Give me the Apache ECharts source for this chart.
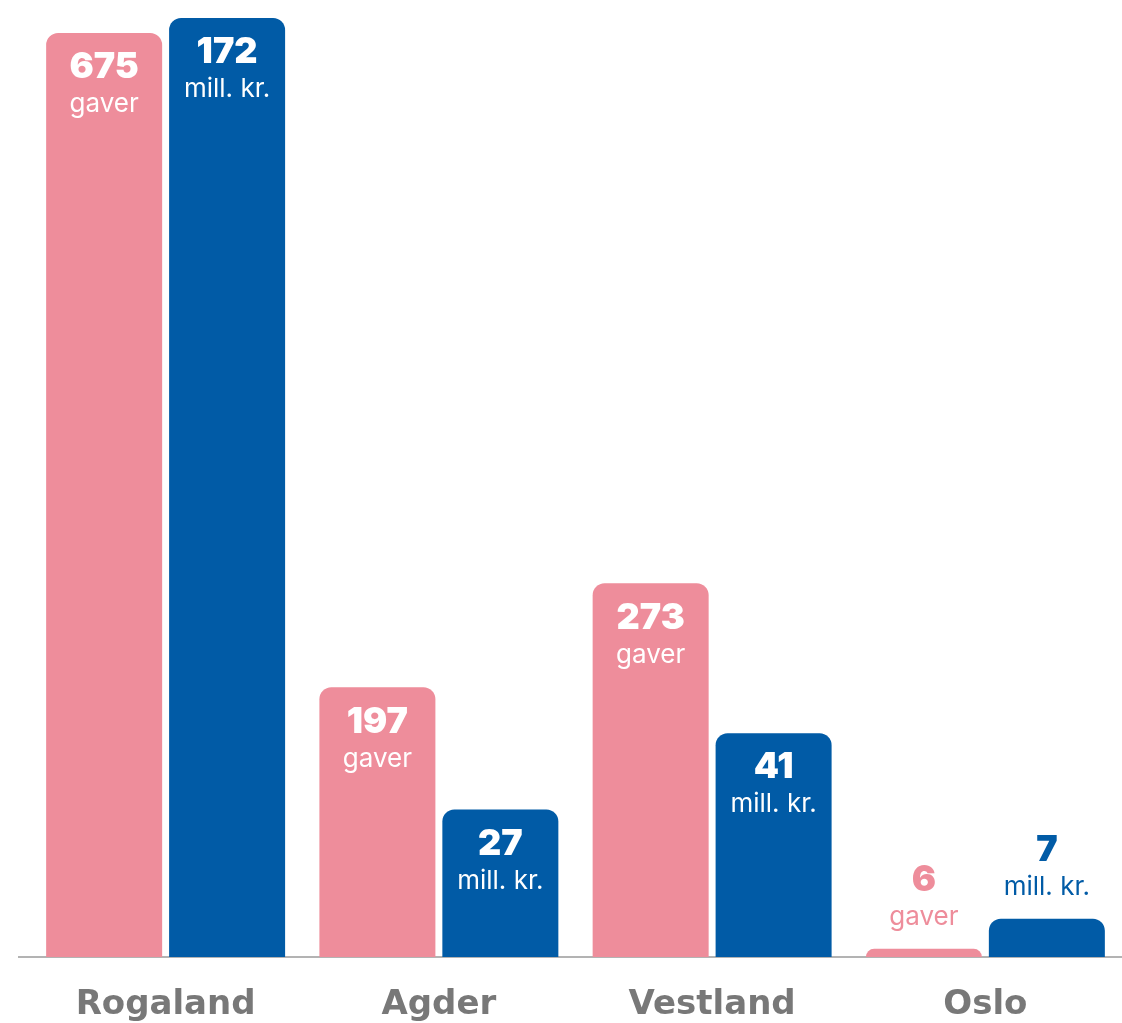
<!DOCTYPE html>
<html>
<head>
<meta charset="utf-8">
<script src="https://cdn.jsdelivr.net/npm/echarts@6/dist/echarts.min.js"></script>
<style>
  html, body { margin: 0; padding: 0; background: #fff; }
  #main { width: 1122px; height: 1023px; }
</style>
</head>
<body>
<div id="main"></div>
<script>
// data ---------------------------------------------------------------
var regions = ['Rogaland', 'Agder', 'Vestland', 'Oslo'];
var gaver = [675, 197, 273, 6];
var millKr = [172, 27, 41, 7];
var gaverUnit = 'gaver';
var millKrUnit = 'mill. kr.';

var pink = '#EE8D9B';
var blue = '#015BA6';
var fontFam = 'Inter, "Open Sans", sans-serif';

// label inni søylen, eller over hvis søylen er for lav
function makeData(values, max, color, unit) {
    return values.map(function (v) {
        var small = v / max < 0.1;
        return {
            value: v,
            label: {
                show: true,
                position: small ? 'top' : 'insideTop',
                distance: small ? 13 : 16,
                formatter: '{n|' + v + '}\n{u|' + unit + '}',
                rich: {
                    n: {
                        fontFamily: fontFam,
                        fontSize: 36,
                        fontWeight: 900,
                        lineHeight: 37,
                        color: small ? color : '#fff'
                    },
                    u: {
                        fontFamily: fontFam,
                        fontSize: 26,
                        fontWeight: 400,
                        lineHeight: 37,
                        color: small ? color : '#fff'
                    }
                }
            }
        };
    });
}

var myChart = echarts.init(document.getElementById('main'));
var option = {
    animation: false,
    grid: {
        left: 29,
        right: 0,
        top: 18,
        bottom: 66
    },
    xAxis: {
        type: 'category',
        data: regions,
        axisLine: {
            lineStyle: { color: '#b3b3b3', width: 2 }
        },
        axisTick: { show: false },
        axisLabel: {
            margin: 31,
            fontFamily: '"DejaVu Sans", sans-serif',
            fontSize: 34,
            fontWeight: 700,
            color: '#787878'
        }
    },
    yAxis: [
        { type: 'value', min: 0, max: 686, show: false },
        { type: 'value', min: 0, max: 172, show: false }
    ],
    graphic: [
        {
            type: 'line',
            shape: { x1: 18, y1: 957, x2: 30, y2: 957 },
            style: { stroke: '#b3b3b3', lineWidth: 2 },
            z: 0
        }
    ],
    series: [
        {
            name: gaverUnit,
            type: 'bar',
            yAxisIndex: 0,
            barWidth: 116,
            barGap: '6%',
            itemStyle: { color: pink, borderRadius: [12, 12, 0, 0] },
            data: makeData(gaver, 686, pink, gaverUnit)
        },
        {
            name: millKrUnit,
            type: 'bar',
            yAxisIndex: 1,
            barWidth: 116,
            barGap: '6%',
            itemStyle: { color: blue, borderRadius: [12, 12, 0, 0] },
            data: makeData(millKr, 172, blue, millKrUnit)
        }
    ]
};
option && myChart.setOption(option);
</script>
</body>
</html>
